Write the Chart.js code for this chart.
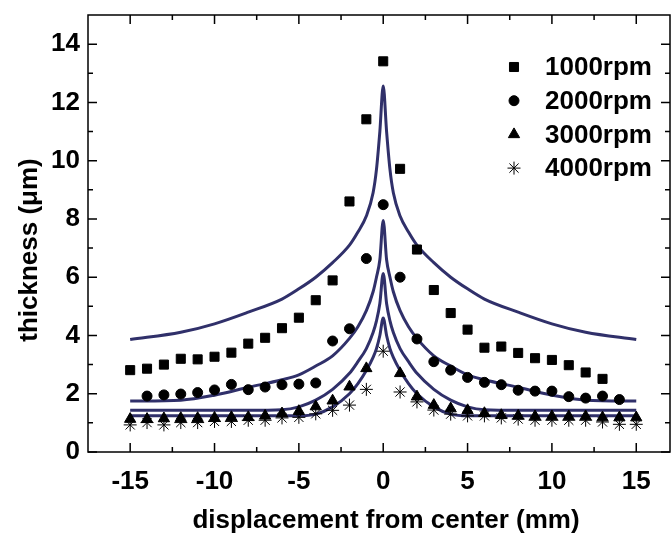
<!DOCTYPE html>
<html>
<head>
<meta charset="utf-8">
<script src="https://cdn.jsdelivr.net/npm/chart.js@4.4.1/dist/chart.umd.min.js"></script>
<style>
  html, body { margin: 0; padding: 0; background: #fff; }
  #wrap { width: 671px; height: 536px; }
</style>
</head>
<body>
<div id="wrap"><canvas id="myChart" width="671" height="536"></canvas></div>
<script>
// measured points, x = -15 .. 15 mm
const xPos = [-15,-14,-13,-12,-11,-10,-9,-8,-7,-6,-5,-4,-3,-2,-1,0,1,2,3,4,5,6,7,8,9,10,11,12,13,14,15];
const rpm1000 = [2.81,2.86,3.0,3.2,3.18,3.27,3.41,3.72,3.92,4.25,4.61,5.21,5.89,8.6,11.42,13.41,9.72,6.95,5.56,4.77,4.2,3.58,3.62,3.40,3.22,3.16,2.98,2.73,2.51,null,null];
const rpm2000 = [null,1.92,1.96,1.99,2.04,2.13,2.32,2.14,2.23,2.31,2.33,2.37,3.81,4.23,6.64,8.49,6.0,3.88,3.1,2.81,2.56,2.39,2.31,2.12,2.09,2.09,1.90,1.85,1.92,1.80,null];
const rpm3000 = [1.13,1.13,1.15,1.16,1.16,1.17,1.19,1.19,1.24,1.32,1.40,1.56,1.76,2.24,2.87,null,2.70,1.90,1.61,1.49,1.43,1.33,1.26,1.24,1.22,1.22,1.22,1.22,1.18,1.18,1.18];
const rpm4000 = [0.93,1.01,0.93,1.01,1.01,1.05,1.05,1.09,1.09,1.17,1.19,1.31,1.43,1.61,2.15,3.46,2.06,1.72,1.44,1.30,1.24,1.24,1.17,1.13,1.09,1.09,1.09,1.09,1.03,0.95,0.95];

// fitted curves
const fitX = [-15,-12,-10,-8,-6,-5,-4,-3,-2,-1.5,-1,-0.6,-0.4,-0.2,0,0.2,0.4,0.6,1,1.5,2,3,4,5,6,8,10,12,15];
const fit1000 = [3.86,4.11,4.4,4.8,5.25,5.6,6.0,6.5,7.1,7.55,8.1,8.9,9.7,11.0,12.56,11.0,9.7,8.9,8.1,7.55,7.1,6.5,6.0,5.6,5.25,4.8,4.4,4.11,3.86];
const fit2000 = [1.75,1.78,1.95,2.22,2.48,2.65,2.95,3.3,3.9,4.3,4.85,5.5,6.0,6.6,7.95,6.6,6.0,5.5,4.85,4.3,3.9,3.3,2.95,2.65,2.48,2.22,1.95,1.78,1.75];
const fit3000 = [1.43,1.43,1.43,1.43,1.45,1.55,1.78,2.15,2.7,3.1,3.55,4.1,4.5,5.1,6.13,5.1,4.5,4.1,3.55,3.1,2.7,2.15,1.78,1.55,1.45,1.43,1.43,1.43,1.43];
const fit4000 = [1.24,1.24,1.24,1.24,1.24,1.24,1.3,1.55,2.0,2.35,2.8,3.25,3.55,4.0,4.6,4.0,3.55,3.25,2.8,2.35,2.0,1.55,1.3,1.24,1.24,1.24,1.24,1.24,1.24];

const xTicks = [-15,-10,-5,0,5,10,15];
const xMinor = [-12.5,-7.5,-2.5,2.5,7.5,12.5];
const yTicks = [0,2,4,6,8,10,12,14];
const yMinor = [1,3,5,7,9,11,13];
const seriesNames = ['1000rpm','2000rpm','3000rpm','4000rpm'];

const FONT = "'Liberation Sans', Arial, sans-serif";
const NAVY = '#30306a';

function pts(xs, ys) {
  return xs.map((x, i) => ({x: x, y: ys[i]})).filter(p => p.y !== null);
}

function markerSet(label, ys, style, r) {
  return {
    type: 'scatter', label: label, data: pts(xPos, ys),
    pointStyle: style, pointRadius: r, pointHoverRadius: r,
    backgroundColor: '#000', borderColor: '#000', borderWidth: 1, showLine: false
  };
}
function fitSet(ys) {
  return {
    type: 'line', label: 'fit', data: pts(fitX, ys),
    borderColor: NAVY, borderWidth: 3, pointRadius: 0, fill: false,
    cubicInterpolationMode: 'monotone'
  };
}

const markerStyles = [['rect', 6.4], ['circle', 5], ['triangle', 6.5], ['star', 6.5]];

const framePlugin = {
  id: 'frame',
  afterDraw(chart) {
    const {ctx, chartArea: a, scales: {x, y}} = chart;
    ctx.save();
    ctx.strokeStyle = '#000';
    ctx.lineWidth = 1.5;
    ctx.strokeRect(a.left, a.top, a.right - a.left, a.bottom - a.top);
    ctx.beginPath();
    const tick = (v, len, horiz) => {
      if (horiz) {
        const px = x.getPixelForValue(v);
        ctx.moveTo(px, a.bottom); ctx.lineTo(px, a.bottom - len);
        ctx.moveTo(px, a.top); ctx.lineTo(px, a.top + len);
      } else {
        const py = y.getPixelForValue(v);
        ctx.moveTo(a.left, py); ctx.lineTo(a.left + len, py);
        ctx.moveTo(a.right, py); ctx.lineTo(a.right - len, py);
      }
    };
    xTicks.forEach(v => tick(v, 9, true));
    xMinor.forEach(v => tick(v, 5, true));
    yTicks.forEach(v => tick(v, 9, false));
    yMinor.forEach(v => tick(v, 5, false));
    ctx.stroke();

    // axis titles
    ctx.fillStyle = '#000';
    ctx.font = 'bold 26px ' + FONT;
    ctx.textAlign = 'center';
    ctx.textBaseline = 'middle';
    ctx.fillText('displacement from center (mm)', 386, 521);
    ctx.save();
    ctx.translate(30, 250);
    ctx.rotate(-Math.PI / 2);
    ctx.fillText('thickness (\u03bcm)', 0, 0);
    ctx.restore();

    // legend
    seriesNames.forEach((name, i) => {
      const ly = 67 + i * 33.7;
      ctx.fillStyle = '#000';
      ctx.strokeStyle = '#000';
      ctx.lineWidth = 1;
      Chart.helpers.drawPoint(ctx, {pointStyle: markerStyles[i][0], radius: markerStyles[i][1], rotation: 0, borderWidth: 1}, 514, ly);
      ctx.textAlign = 'left';
      ctx.fillText(name, 545, ly + 1);
    });
    ctx.restore();
  }
};

const noPad = s => { s.paddingLeft = 0; s.paddingRight = 0; s.paddingTop = 0; s.paddingBottom = 0; };

const ctx = document.getElementById('myChart');
const myChart = new Chart(ctx, {
  data: {
    datasets: [
      markerSet(seriesNames[0], rpm1000, 'rect', 6.4),
      markerSet(seriesNames[1], rpm2000, 'circle', 5),
      markerSet(seriesNames[2], rpm3000, 'triangle', 6.5),
      markerSet(seriesNames[3], rpm4000, 'star', 6.5),
      fitSet(fit1000), fitSet(fit2000), fitSet(fit3000), fitSet(fit4000)
    ]
  },
  options: {
    responsive: false,
    animation: false,
    devicePixelRatio: 1,
    layout: { autoPadding: false, padding: { top: 15, right: 1, left: 0, bottom: 0 } },
    plugins: { legend: { display: false }, tooltip: { enabled: false } },
    scales: {
      x: {
        type: 'linear', min: -17.5, max: 17,
        grid: { display: false, drawTicks: false },
        border: { display: false },
        afterBuildTicks: s => { s.ticks = xTicks.map(v => ({value: v})); },
        afterFit: s => { s.height = 84; noPad(s); },
        ticks: { padding: 17, color: '#000', font: { family: FONT, size: 26, weight: 'bold', lineHeight: 1 } }
      },
      y: {
        type: 'linear', min: 0, max: 15,
        grid: { display: false, drawTicks: false },
        border: { display: false },
        afterBuildTicks: s => { s.ticks = yTicks.map(v => ({value: v})); },
        afterFit: s => { s.width = 88; noPad(s); },
        ticks: { padding: 8, color: '#000', font: { family: FONT, size: 26, weight: 'bold', lineHeight: 1 } }
      }
    }
  },
  plugins: [framePlugin]
});
</script>
</body>
</html>
